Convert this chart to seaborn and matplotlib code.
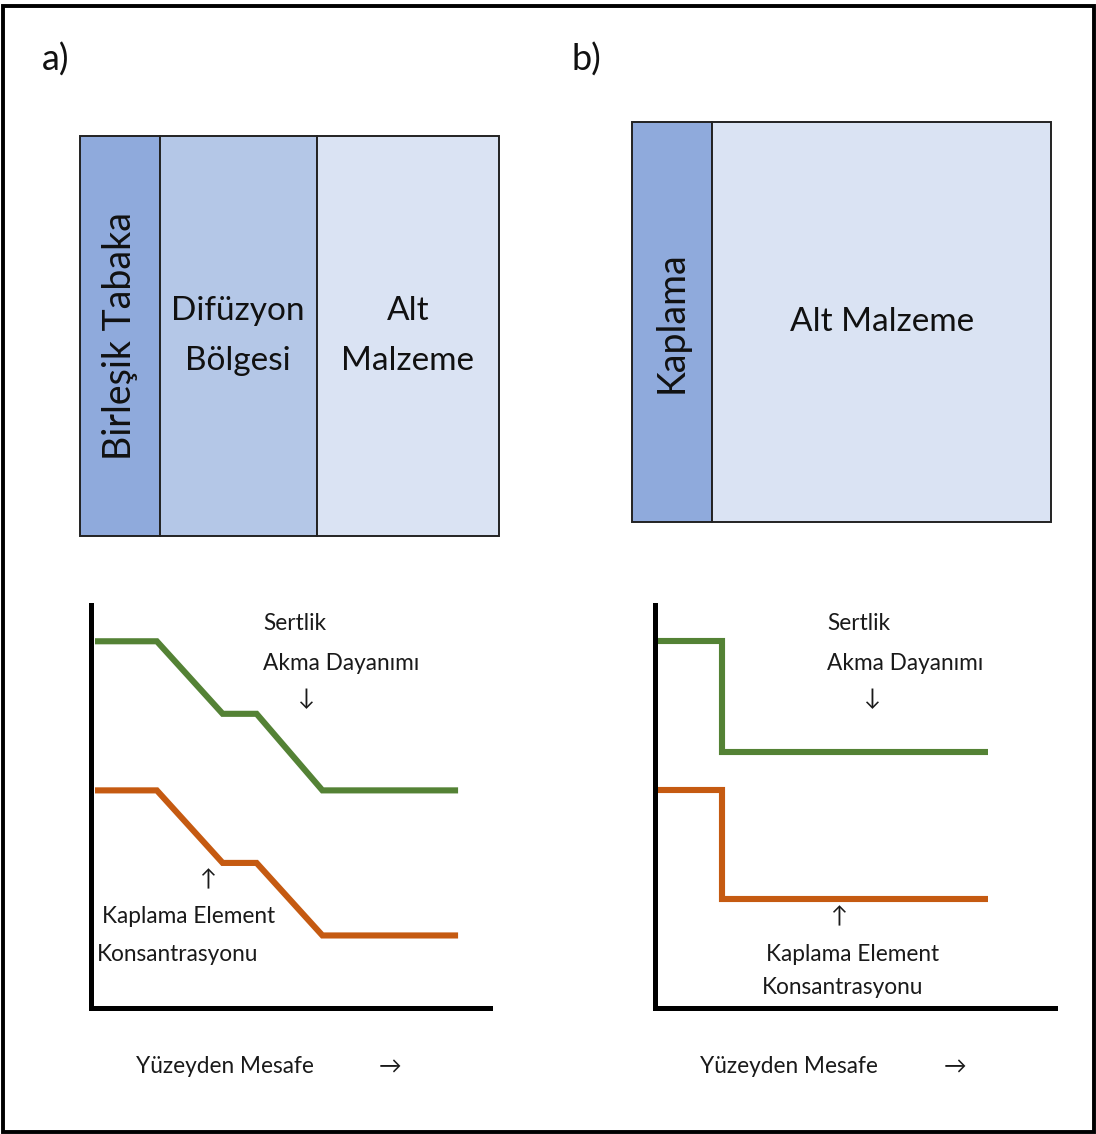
import matplotlib
matplotlib.use("Agg")
import matplotlib.pyplot as plt
from matplotlib.patches import Rectangle
import numpy as np
import pandas as pd
import seaborn as sns

sns.set_theme(style="white")
plt.rcParams["font.family"] = ["Lato", "DejaVu Sans"]

# ---- layer stacks (relative thickness, %) ----
layers_a = ["Birleşik Tabaka", "Difüzyon\nBölgesi", "Alt\nMalzeme"]
widths_a = [19.0, 37.5, 43.5]
colors_a = ["#8faadc", "#b4c7e7", "#dae3f3"]
rot_a = [90, 0, 0]

layers_b = ["Kaplama", "Alt Malzeme"]
widths_b = [19.2, 80.8]
colors_b = ["#8faadc", "#dae3f3"]
rot_b = [90, 0]

# ---- property profiles vs. distance from surface ----
dist_a = [1.0, 16.5, 33.0, 41.5, 58.0, 92.0]
hard_a = [91.0, 91.0, 73.0, 73.0, 54.0, 54.0]
conc_a = [54.0, 54.0, 36.0, 36.0, 18.0, 18.0]

dist_b = [0.5, 16.75, 16.75, 83.25]
hard_b = [91.0, 91.0, 63.5, 63.5]
conc_b = [54.0, 54.0, 27.0, 27.0]

GREEN = "#548235"
ORANGE = "#c55a11"

W, H = 1096, 1134
fig = plt.figure(figsize=(W / 100, H / 100), dpi=100)
fig.patch.set_facecolor("white")


def px_axes(x0, y0, x1, y1):
    """Axes from pixel box (top-left origin)."""
    return fig.add_axes([x0 / W, 1 - y1 / H, (x1 - x0) / W, (y1 - y0) / H])


# outer frame
fig.add_artist(Rectangle((3 / W, 2.5 / H), (1091 / W), (1126 / H),
                         transform=fig.transFigure, fill=False,
                         edgecolor="black", linewidth=2.8))

fig.text(42 / W, 1 - 60 / H, "a)", fontsize=26, va="center", ha="left",
         color="#111111")
fig.text(572 / W, 1 - 60 / H, "b)", fontsize=26, va="center", ha="left",
         color="#111111")


def layer_box(ax, names, widths, colors, rots):
    lefts = np.concatenate([[0], np.cumsum(widths)[:-1]])
    ax.bar(lefts, [1] * len(widths), width=widths, align="edge",
           color=colors, edgecolor="#222222", linewidth=1.4)
    for name, l, w, r in zip(names, lefts, widths, rots):
        ax.text(l + w / 2, 0.5, name, ha="center", va="center", rotation=r,
                fontsize=27 if r else 24, color="#111111", linespacing=1.87)
    ax.set_xlim(-0.2, 100.2)
    ax.set_ylim(-0.003, 1.003)
    ax.axis("off")


layer_box(px_axes(79, 135, 500, 537), layers_a, widths_a, colors_a, rot_a)
layer_box(px_axes(631, 121, 1052, 523), layers_b, widths_b, colors_b, rot_b)


def profile(ax, dist, hard, conc, labels):
    df = pd.DataFrame({
        "dist": dist + dist,
        "val": hard + conc,
        "prop": ["hard"] * len(dist) + ["conc"] * len(dist),
    })
    sns.lineplot(data=df, x="dist", y="val", hue="prop",
                 palette={"hard": GREEN, "conc": ORANGE},
                 estimator=None, sort=False, linewidth=4.4,
                 legend=False, ax=ax)
    for ln in ax.lines:
        ln.set_solid_joinstyle("miter")
        ln.set_solid_capstyle("butt")
    ax.set_xlim(0, 100)
    ax.set_ylim(0, 100)
    ax.set_xticks([])
    ax.set_yticks([])
    ax.set_xlabel("")
    ax.set_ylabel("")
    for s in ["top", "right"]:
        ax.spines[s].set_visible(False)
    for s in ["left", "bottom"]:
        ax.spines[s].set_color("black")
        ax.spines[s].set_linewidth(3.6)
        ax.spines[s].set_capstyle("projecting")
    ax.patch.set_alpha(0)
    for (x, y, txt, ha) in labels:
        ax.text(x, y, txt, ha=ha, va="center", fontsize=16.3,
                color="#1a1a1a", clip_on=False)


labels_a = [
    (43.1, 95.5, "Sertlik", "left"),
    (43.1, 85.6, "Akma Dayanımı", "left"),
    (54.1, 76.9, "↓", "center"),
    (29.1, 31.8, "↑", "center"),
    (2.8, 22.6, "Kaplama Element", "left"),
    (1.5, 13.2, "Konsantrasyonu", "left"),
    (11.3, -14.6, "Yüzeyden Mesafe", "left"),
    (74.9, -14.6, "→", "center"),
]
labels_b = [
    (43.0, 95.5, "Sertlik", "left"),
    (43.0, 85.6, "Akma Dayanımı", "left"),
    (54.25, 76.9, "↓", "center"),
    (46.0, 22.6, "↑", "center"),
    (27.75, 13.2, "Kaplama Element", "left"),
    (26.75, 5.0, "Konsantrasyonu", "left"),
    (11.25, -14.6, "Yüzeyden Mesafe", "left"),
    (75.0, -14.6, "→", "center"),
]

profile(px_axes(91, 605, 490, 1008), dist_a, hard_a, conc_a, labels_a)
profile(px_axes(655, 605, 1055, 1008), dist_b, hard_b, conc_b, labels_b)

fig.savefig("out.png", dpi=100, facecolor="white")
